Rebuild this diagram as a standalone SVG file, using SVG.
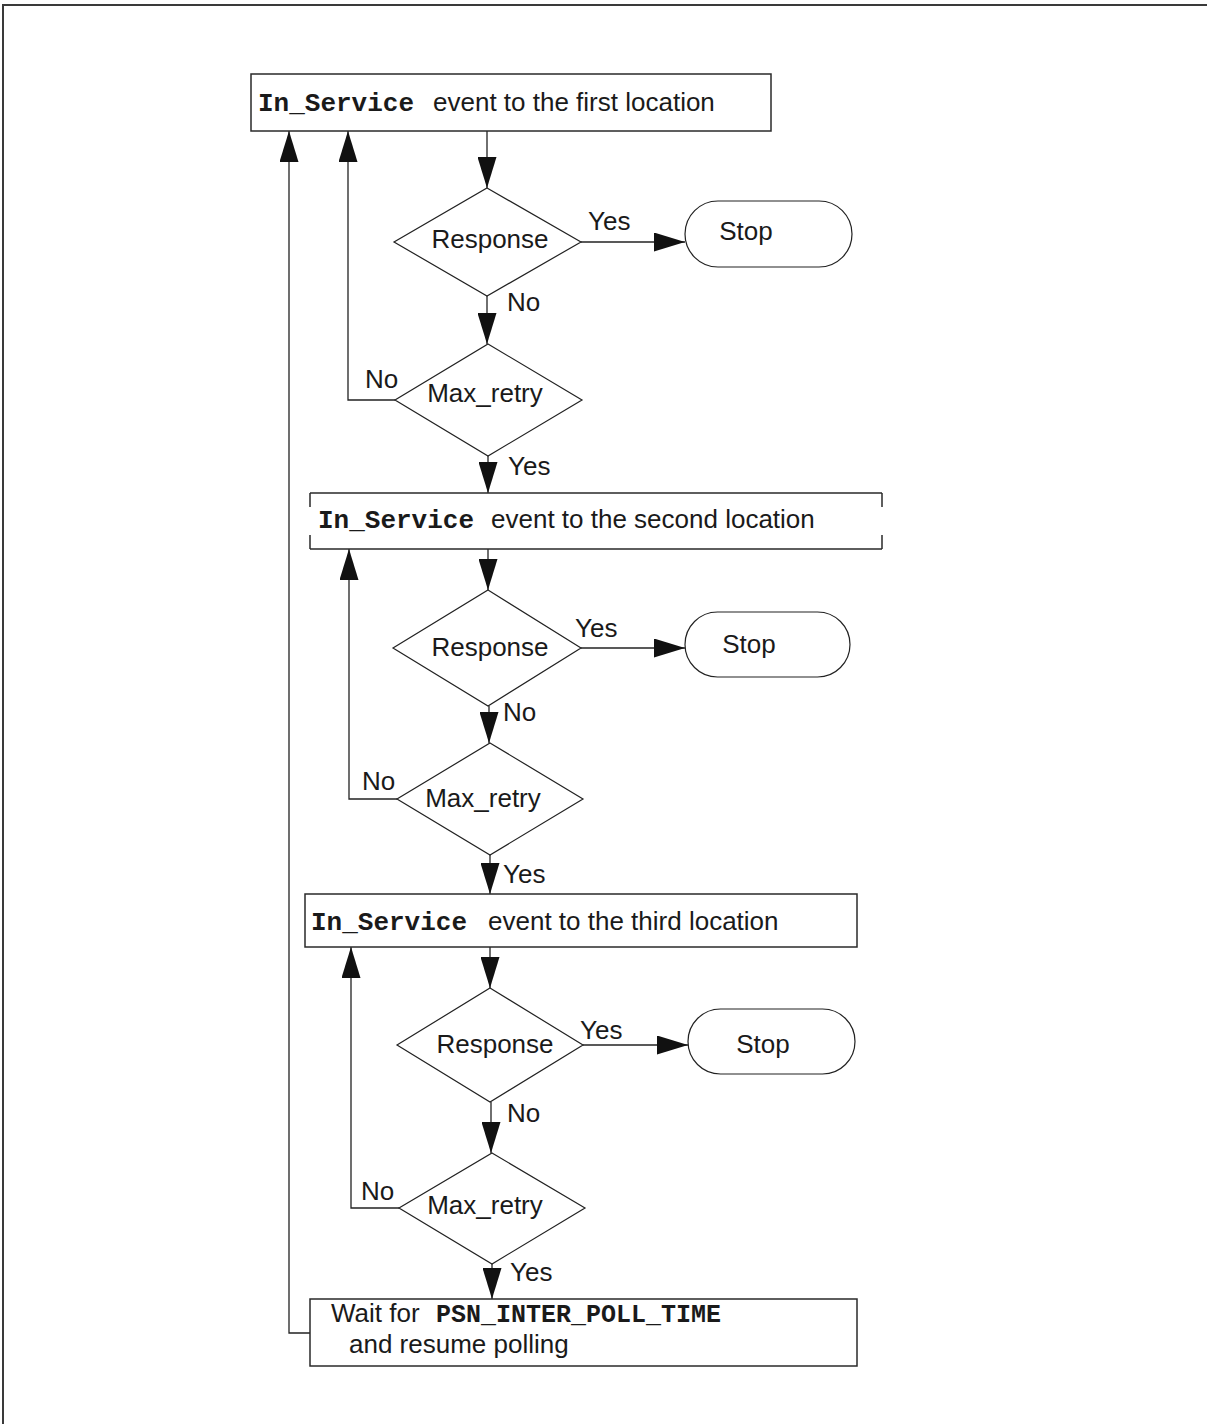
<svg xmlns="http://www.w3.org/2000/svg" width="1207" height="1424" viewBox="0 0 1207 1424">
  <style>
    .frame { fill: none; stroke: #3a3a3a; stroke-width: 2; }
    .box { fill: #ffffff; stroke: #2a2a2a; stroke-width: 1.5; }
    .dec { fill: #ffffff; stroke: #222222; stroke-width: 1.2; }
    .term { fill: #ffffff; stroke: #222222; stroke-width: 1.2; }
    .edge { fill: none; stroke: #222222; stroke-width: 1.3; }
    .t { font-family: "Liberation Sans", Arial, sans-serif; font-size: 26px; fill: #1a1a1a; }
    .m { font-family: "Liberation Mono", "Courier New", monospace; font-size: 26px; font-weight: bold; fill: #1a1a1a; }
    .mid { text-anchor: middle; }
  </style>
  <defs>
    <marker id="arrow" viewBox="0 0 31 19" markerWidth="31" markerHeight="19" refX="31" refY="9.5" orient="auto" markerUnits="userSpaceOnUse">
      <path d="M0,0 L31,9.5 L0,19 Z" fill="#111111"/>
    </marker>
  </defs>

  <rect width="1207" height="1424" fill="#ffffff"/>
  <!-- page frame -->
  <path class="frame" d="M3,1424 V5 H1207"/>

  <!-- connectors -->
  <g id="connectors">
    <!-- section 1 -->
    <path class="edge" d="M487,131 V188" marker-end="url(#arrow)"/>
    <path class="edge" d="M581,242 H685" marker-end="url(#arrow)"/>
    <path class="edge" d="M487,296 V344" marker-end="url(#arrow)"/>
    <path class="edge" d="M395,400 H348 V131" marker-end="url(#arrow)"/>
    <path class="edge" d="M488,456 V493" marker-end="url(#arrow)"/>
    <!-- section 2 -->
    <path class="edge" d="M488,549 V590" marker-end="url(#arrow)"/>
    <path class="edge" d="M581,648 H685" marker-end="url(#arrow)"/>
    <path class="edge" d="M489,706 V743" marker-end="url(#arrow)"/>
    <path class="edge" d="M397,799 H349 V549" marker-end="url(#arrow)"/>
    <path class="edge" d="M490,855 V894" marker-end="url(#arrow)"/>
    <!-- section 3 -->
    <path class="edge" d="M490,947 V988" marker-end="url(#arrow)"/>
    <path class="edge" d="M583,1045 H688" marker-end="url(#arrow)"/>
    <path class="edge" d="M491,1102 V1153" marker-end="url(#arrow)"/>
    <path class="edge" d="M399,1208 H351 V947" marker-end="url(#arrow)"/>
    <path class="edge" d="M492,1264 V1299" marker-end="url(#arrow)"/>
    <!-- restart loop -->
    <path class="edge" d="M310,1333 H289 V131" marker-end="url(#arrow)"/>

    <!-- branch labels -->
    <text class="t" x="588" y="230">Yes</text>
    <text class="t" x="507" y="311">No</text>
    <text class="t" x="365" y="388">No</text>
    <text class="t" x="508" y="475">Yes</text>

    <text class="t" x="575" y="637">Yes</text>
    <text class="t" x="503" y="721">No</text>
    <text class="t" x="362" y="790">No</text>
    <text class="t" x="503" y="883">Yes</text>

    <text class="t" x="580" y="1039">Yes</text>
    <text class="t" x="507" y="1122">No</text>
    <text class="t" x="361" y="1200">No</text>
    <text class="t" x="510" y="1281">Yes</text>
  </g>

  <!-- section 1 nodes -->
  <g id="event-first">
    <rect class="box" x="251" y="74" width="520" height="57"/>
    <text x="258" y="111"><tspan class="m">In_Service</tspan><tspan class="t" x="433">event to the first location</tspan></text>
  </g>
  <g id="response-1">
    <polygon class="dec" points="487,188 581,242 487,296 394,242"/>
    <text class="t mid" x="490" y="248">Response</text>
  </g>
  <g id="stop-1">
    <rect class="term" x="685" y="201" width="167" height="66" rx="33" ry="33"/>
    <text class="t mid" x="746" y="240">Stop</text>
  </g>
  <g id="max-retry-1">
    <polygon class="dec" points="488,344 582,400 488,456 395,400"/>
    <text class="t mid" x="485" y="402">Max_retry</text>
  </g>

  <!-- section 2 nodes -->
  <g id="event-second">
    <rect x="310" y="493" width="572" height="56" fill="#ffffff"/>
    <path class="box" d="M310,493 H882 M310,549 H882 M310,493 V507 M310,535 V549 M882,493 V507 M882,535 V549"/>
    <text x="318" y="528"><tspan class="m">In_Service</tspan><tspan class="t" x="491">event to the second location</tspan></text>
  </g>
  <g id="response-2">
    <polygon class="dec" points="488,590 581,648 488,706 393,648"/>
    <text class="t mid" x="490" y="656">Response</text>
  </g>
  <g id="stop-2">
    <rect class="term" x="685" y="612" width="165" height="65" rx="32.5" ry="32.5"/>
    <text class="t mid" x="749" y="653">Stop</text>
  </g>
  <g id="max-retry-2">
    <polygon class="dec" points="490,743 583,799 490,855 397,799"/>
    <text class="t mid" x="483" y="807">Max_retry</text>
  </g>

  <!-- section 3 nodes -->
  <g id="event-third">
    <rect class="box" x="305" y="894" width="552" height="53"/>
    <text x="311" y="930"><tspan class="m">In_Service</tspan><tspan class="t" x="488">event to the third location</tspan></text>
  </g>
  <g id="response-3">
    <polygon class="dec" points="490,988 583,1045 490,1102 397,1045"/>
    <text class="t mid" x="495" y="1053">Response</text>
  </g>
  <g id="stop-3">
    <rect class="term" x="688" y="1009" width="167" height="65" rx="32.5" ry="32.5"/>
    <text class="t mid" x="763" y="1053">Stop</text>
  </g>
  <g id="max-retry-3">
    <polygon class="dec" points="492,1153 585,1208 492,1264 399,1208"/>
    <text class="t mid" x="485" y="1214">Max_retry</text>
  </g>

  <!-- wait and resume -->
  <g id="wait-resume">
    <rect class="box" x="310" y="1299" width="547" height="67"/>
    <text x="331" y="1322"><tspan class="t">Wait for</tspan><tspan class="m" x="436" style="font-size:25px">PSN_INTER_POLL_TIME</tspan></text>
    <text class="t" x="349" y="1353">and resume polling</text>
  </g>
</svg>
